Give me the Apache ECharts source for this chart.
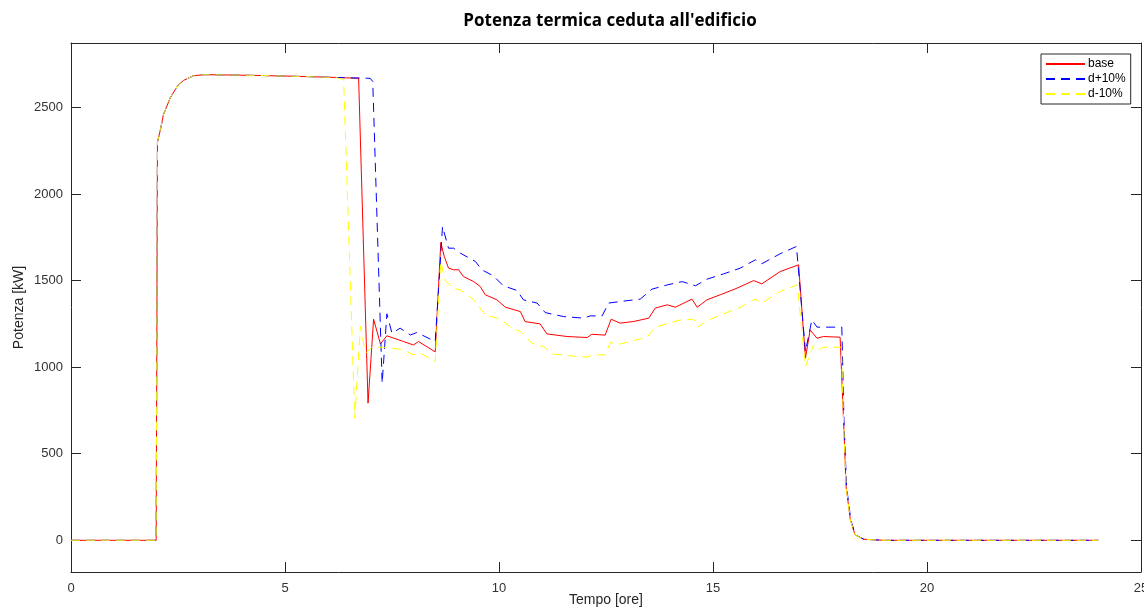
<!DOCTYPE html>
<html>
<head>
<meta charset="utf-8">
<script src="https://cdn.jsdelivr.net/npm/echarts@6/dist/echarts.min.js"></script>
<style>
html,body{margin:0;padding:0;background:#fff;}
#chart{width:1144px;height:608px;}
</style>
</head>
<body>
<div id="chart"></div>
<script>
// ---- data (time [h], power [kW]) ----
const titleText = "Potenza termica ceduta all'edificio";
const xName = "Tempo [ore]";
const yName = "Potenza [kW]";
const seriesNames = ["base", "d+10%", "d-10%"];
const xTicks = [0, 5, 10, 15, 20, 25];
const yTicks = [0, 500, 1000, 1500, 2000, 2500];

const baseData = [
  [0,0],[1.99,0],[2.02,2300],[2.09,2372],[2.16,2458],[2.32,2556],[2.48,2621],[2.63,2656],
  [2.86,2683],[3.1,2689],[3.5,2688],[4.5,2684],[5.5,2678],[6.2,2673],[6.72,2668],
  [6.94,792],[7.07,1277],[7.23,1134],[7.38,1181],[7.77,1148],[8.0,1128],[8.12,1148],
  [8.51,1088],[8.64,1720],[8.72,1640],[8.82,1572],[8.94,1562],[9.06,1562],[9.17,1523],
  [9.41,1494],[9.56,1466],[9.68,1418],[9.95,1389],[10.15,1346],[10.5,1321],[10.61,1263],
  [10.96,1250],[11.12,1192],[11.59,1177],[12.06,1171],[12.17,1190],[12.48,1185],
  [12.62,1277],[12.83,1254],[13.15,1264],[13.5,1283],[13.65,1341],[13.93,1360],
  [14.12,1346],[14.51,1393],[14.63,1346],[14.86,1389],[15.17,1418],[15.56,1456],
  [15.95,1500],[16.14,1481],[16.57,1552],[17.0,1591],[17.16,1052],[17.27,1215],
  [17.43,1167],[17.58,1177],[17.97,1173],[18.01,1170],[18.05,695],[18.11,310],
  [18.21,117],[18.32,31],[18.52,6],[19,0],[24,0]
];

const plusData = [
  [0,0],[1.99,0],[2.02,2300],[2.09,2372],[2.16,2458],[2.32,2556],[2.48,2621],[2.63,2656],
  [2.86,2683],[3.1,2689],[3.5,2688],[4.5,2684],[5.5,2678],[6.2,2673],[6.99,2668],
  [7.05,2650],[7.27,907],[7.38,1308],[7.5,1196],[7.69,1225],[7.93,1186],[8.08,1200],
  [8.51,1148],[8.68,1812],[8.82,1687],[8.94,1687],[9.1,1658],[9.45,1610],[9.6,1562],
  [9.87,1527],[10.1,1470],[10.42,1443],[10.57,1389],[10.89,1370],[11.08,1315],
  [11.51,1292],[11.98,1283],[12.13,1296],[12.41,1296],[12.56,1370],[12.83,1379],
  [13.3,1393],[13.57,1450],[13.93,1475],[14.28,1494],[14.59,1470],[14.86,1508],
  [15.25,1539],[15.64,1572],[15.99,1620],[16.14,1597],[16.57,1655],[16.95,1697],
  [17.16,1090],[17.31,1273],[17.43,1231],[18.01,1231],[18.06,695],[18.12,310],
  [18.22,117],[18.33,31],[18.53,6],[19,0],[24,0]
];

const minusData = [
  [0,0],[1.99,0],[2.02,2300],[2.09,2372],[2.16,2458],[2.32,2556],[2.48,2621],[2.63,2656],
  [2.86,2683],[3.1,2689],[3.5,2688],[4.5,2684],[5.5,2678],[6.2,2672],[6.37,2660],
  [6.63,705],[6.76,1234],[6.88,1081],[7.03,1115],[7.38,1115],[7.77,1100],[8.0,1071],
  [8.16,1081],[8.51,1032],[8.64,1610],[8.74,1500],[8.94,1456],[9.1,1446],[9.41,1389],
  [9.68,1302],[10.03,1277],[10.3,1225],[10.5,1206],[10.77,1138],[11.04,1119],
  [11.24,1077],[11.67,1065],[12.06,1058],[12.21,1071],[12.48,1071],[12.6,1141],
  [12.83,1134],[13.46,1173],[13.65,1231],[14.24,1273],[14.55,1277],[14.64,1231],
  [14.86,1269],[15.25,1308],[15.64,1346],[15.99,1393],[16.14,1370],[16.57,1437],
  [16.97,1475],[17.16,1003],[17.35,1128],[17.47,1100],[17.58,1115],[18.0,1115],
  [18.05,695],[18.11,310],[18.21,117],[18.32,31],[18.52,6],[19,0],[24,0]
];

const colors = ["#ff0000", "#0000ff", "#ffff00"];

// ---- chart ----
const AX = "#262626";
const tickFont = {fontFamily: "Liberation Sans, Arial, sans-serif", fontSize: 13, color: "#333"};
const chart = echarts.init(document.getElementById('chart'), null, {renderer: 'canvas'});

function frameAxis(extra) {
  return Object.assign({
    axisLine: {show: true, onZero: false, lineStyle: {color: AX, width: 1}},
    splitLine: {show: false}
  }, extra);
}
function plain(v) { return String(v); }

chart.setOption({
  animation: false,
  backgroundColor: "#fff",
  title: {
    text: titleText,
    left: 605, top: 8, textAlign: 'center',
    textStyle: {fontFamily: "Open Sans, sans-serif", fontWeight: 'bold', fontSize: 17, color: "#000"}
  },
  legend: {
    data: seriesNames,
    orient: 'vertical',
    left: 1041, top: 54,
    padding: [4, 5, 4, 4],
    itemWidth: 39, itemHeight: 14, itemGap: 3,
    itemStyle: {opacity: 0},
    borderColor: AX, borderWidth: 1, backgroundColor: "#fff",
    textStyle: {fontFamily: "Liberation Sans, Arial, sans-serif", fontSize: 12, color: "#000", padding: [0,0,0,-2]}
  },
  grid: {left: 71, right: 3, top: 43, bottom: 36, containLabel: false, outerBoundsMode: 'none'},
  xAxis: [
    frameAxis({
      type: 'value', position: 'bottom', min: 0, max: 25, interval: 5,
      name: xName, nameLocation: 'middle', nameGap: 21, nameMoveOverlap: false,
      nameTextStyle: {fontFamily: "Liberation Sans, Arial, sans-serif", fontSize: 14, color: AX},
      axisLabel: Object.assign({margin: 10, customValues: xTicks, formatter: plain}, tickFont),
      axisTick: {show: true, inside: true, length: 10, lineStyle: {color: AX}, customValues: xTicks}
    }),
    frameAxis({
      type: 'value', position: 'top', min: 0, max: 25, interval: 5,
      axisLabel: {show: false},
      axisTick: {show: true, inside: true, length: 10, lineStyle: {color: AX}, customValues: xTicks}
    })
  ],
  yAxis: [
    frameAxis({
      type: 'value', position: 'left', min: -183, max: 2872,
      name: yName, nameLocation: 'middle', nameGap: 45, nameRotate: 90, nameMoveOverlap: false,
      nameTextStyle: {fontFamily: "Liberation Sans, Arial, sans-serif", fontSize: 14, color: AX},
      axisLabel: Object.assign({margin: 8, customValues: yTicks, formatter: plain}, tickFont),
      axisTick: {show: true, inside: true, length: 10, lineStyle: {color: AX}, customValues: yTicks}
    }),
    frameAxis({
      type: 'value', position: 'right', min: -183, max: 2872,
      axisLabel: {show: false},
      axisTick: {show: true, inside: true, length: 10, lineStyle: {color: AX}, customValues: yTicks}
    })
  ],
  series: [
    {name: seriesNames[0], type: 'line', data: baseData, symbol: 'none', showSymbol: false,
     color: colors[0], lineStyle: {color: colors[0], width: 1, type: 'solid'}},
    {name: seriesNames[1], type: 'line', data: plusData, symbol: 'none', showSymbol: false,
     color: colors[1], lineStyle: {color: colors[1], width: 1, type: [9, 6]}},
    {name: seriesNames[2], type: 'line', data: minusData, symbol: 'none', showSymbol: false,
     color: colors[2], lineStyle: {color: colors[2], width: 1, type: [9, 6]}}
  ]
});
</script>
</body>
</html>
